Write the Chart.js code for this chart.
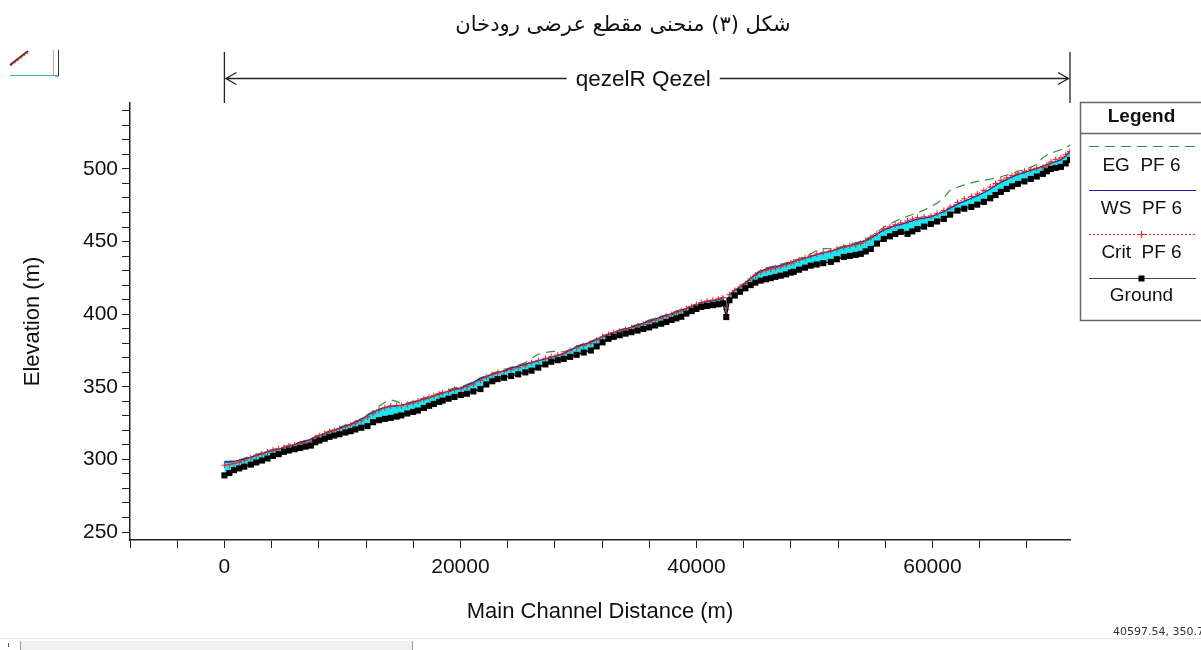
<!DOCTYPE html>
<html>
<head>
<meta charset="utf-8">
<script src="https://cdn.jsdelivr.net/npm/chart.js@4.4.1/dist/chart.umd.min.js"></script>
<style>
  html, body { margin: 0; padding: 0; background: #fff; overflow: hidden; }
  #wrap { position: relative; width: 1201px; height: 650px; }
  canvas { display: block; }
</style>
</head>
<body>
<div id="wrap"><canvas id="profile" width="1201" height="650"></canvas></div>
<script>
// River stations (m) along the main channel, upstream end last
const stations = [
  0, 420, 810, 1250, 1690, 2240, 2700, 3180, 3650, 4120,
  4600, 5050, 5460, 5950, 6420, 6880, 7320, 7700, 8050, 8500,
  8900, 9300, 9750, 10250, 10700, 11100, 11600, 12130, 12600, 13100,
  13600, 14100, 14600, 15000, 15500, 16000, 16400, 16900, 17350, 17750,
  18200, 18500, 19000, 19500, 20050, 20550, 21100, 21700, 22200, 22700,
  23150, 23700, 24300, 24900, 25500, 26030, 26600, 27200, 27700, 28250,
  28760, 29300, 29850, 30450, 31050, 31550, 32050, 32550, 33000, 33500,
  34000, 34500, 35010, 35500, 36000, 36500, 37020, 37450, 37900, 38300,
  38720, 39150, 39600, 40000, 40410, 40900, 41400, 41850, 42250, 42530,
  42800, 43250, 43700, 44150, 44600, 45000, 45450, 45900, 46300, 46700,
  47150, 47600, 48000, 48250, 48700, 49200, 49690, 50200, 50750, 51390,
  51900, 52490, 53000, 53500, 53930, 54350, 54780, 55300, 55880, 56400,
  56850, 57320, 57890, 58300, 58740, 59300, 59870, 60400, 60970, 61500,
  62130, 62700, 63300, 63800, 64360, 64900, 65350, 65800, 66300, 66750,
  67240, 67800, 68340, 68850, 69360, 69700, 70040, 70450, 70890, 71300,
  71660
];

// Channel invert (Ground), m
const ground = [
  289.0, 290.6, 292.6, 293.8, 295.0, 296.4, 297.9, 299.2, 300.6, 302.4,
  303.6, 305.2, 306.1, 307.0, 307.9, 308.8, 309.5, 311.8, 313.0, 314.2,
  315.5, 316.4, 317.3, 318.5, 319.4, 320.6, 321.8, 322.9, 325.6, 327.0,
  327.9, 328.6, 329.5, 330.3, 331.6, 332.7, 333.6, 335.4, 336.9, 338.2,
  339.6, 340.5, 341.8, 343.0, 344.3, 345.2, 346.8, 348.4, 351.6, 353.8,
  355.3, 356.2, 357.4, 358.6, 359.9, 361.1, 363.2, 365.4, 367.2, 368.3,
  369.2, 370.6, 372.0, 373.6, 375.0, 377.8, 380.6, 383.0, 384.4, 385.5,
  386.6, 387.6, 388.7, 389.8, 390.9, 392.2, 393.4, 394.6, 396.0, 397.1,
  398.2, 400.4, 402.1, 403.6, 405.0, 405.6, 406.2, 406.8, 407.4, 398.0,
  409.6, 412.8, 415.4, 417.8, 420.0, 421.7, 423.1, 424.0, 424.8, 425.7,
  426.5, 427.4, 428.6, 429.2, 430.6, 432.0, 433.4, 434.2, 435.1, 436.0,
  437.8, 439.4, 440.1, 440.8, 441.5, 443.2, 444.9, 448.6, 451.8, 453.6,
  455.2, 456.6, 455.3, 457.0, 458.6, 460.3, 462.1, 463.8, 465.6, 468.5,
  471.3, 472.6, 473.8, 475.4, 477.3, 479.8, 482.0, 484.2, 486.2, 488.0,
  489.7, 491.4, 493.1, 494.8, 496.6, 498.4, 500.0, 500.7, 501.4, 503.8,
  506.2
];

// Water surface, profile PF 6, m
const wsPF6 = [
  298.2, 298.3, 298.6, 299.3, 300.2, 301.6, 302.8, 304.0, 305.1, 306.2,
  307.0, 308.0, 309.0, 310.3, 311.5, 312.7, 313.8, 315.1, 316.4, 317.6,
  318.9, 320.1, 321.6, 323.0, 324.3, 325.6, 327.6, 330.4, 332.6, 334.4,
  335.8, 336.6, 336.9, 337.4, 338.2, 339.3, 340.4, 341.6, 342.6, 343.8,
  344.9, 345.8, 347.0, 348.4, 349.3, 351.0, 353.0, 355.6, 357.2, 358.6,
  359.8, 361.2, 362.8, 364.2, 365.6, 366.8, 368.0, 369.2, 370.4, 371.6,
  372.8, 375.4, 377.4, 379.2, 380.8, 382.6, 384.6, 385.9, 387.4, 388.6,
  389.8, 391.0, 392.4, 393.8, 395.2, 396.6, 397.9, 399.2, 400.4, 401.6,
  402.7, 404.0, 405.2, 406.4, 407.6, 408.4, 409.2, 410.0, 410.8, 404.6,
  413.0, 416.2, 418.8, 421.2, 424.6, 427.2, 429.6, 431.0, 431.9, 432.8,
  433.6, 434.6, 435.6, 436.3, 437.4, 438.6, 439.8, 441.0, 442.2, 443.4,
  444.8, 446.2, 447.4, 448.4, 449.4, 450.8, 452.4, 455.2, 458.0, 459.6,
  461.0, 461.8, 463.2, 464.4, 465.4, 466.2, 467.0, 468.8, 470.6, 473.2,
  475.8, 477.8, 479.8, 481.6, 483.8, 486.2, 488.6, 490.8, 492.8, 494.6,
  496.2, 497.6, 499.0, 500.4, 502.0, 503.0, 504.0, 505.0, 506.4, 509.0,
  512.6
];

// Critical depth elevation, profile PF 6, m
const critPF6 = [
  296.0, 296.4, 297.2, 298.1, 299.4, 301.0, 302.4, 303.8, 305.2, 306.4,
  307.3, 308.2, 309.3, 309.9, 310.8, 311.6, 312.7, 315.0, 316.3, 317.8,
  319.1, 319.9, 321.0, 322.4, 323.7, 325.1, 326.7, 329.2, 331.8, 333.9,
  335.6, 336.8, 337.2, 337.0, 337.9, 339.0, 340.2, 341.5, 342.7, 343.9,
  345.0, 345.9, 346.8, 348.0, 348.6, 350.0, 351.8, 354.4, 356.6, 358.4,
  359.6, 360.6, 361.9, 363.2, 364.8, 366.6, 368.2, 369.6, 370.8, 371.9,
  372.9, 375.0, 376.8, 378.4, 380.0, 382.2, 384.4, 386.0, 387.3, 388.2,
  389.4, 390.6, 391.8, 393.0, 394.4, 395.8, 397.2, 398.4, 399.8, 401.0,
  402.4, 403.8, 405.2, 406.6, 408.0, 408.9, 409.7, 410.4, 411.2, 403.2,
  413.4, 416.4, 418.8, 421.0, 424.4, 426.8, 429.0, 430.2, 431.0, 431.9,
  432.8, 434.0, 435.2, 436.0, 437.4, 438.8, 440.2, 441.4, 442.6, 443.6,
  444.8, 446.1, 447.0, 447.8, 448.8, 450.8, 452.8, 455.6, 458.6, 460.2,
  461.6, 462.8, 464.2, 465.4, 466.4, 467.0, 467.6, 469.4, 471.4, 473.8,
  477.0, 479.4, 481.0, 482.8, 485.2, 487.6, 490.0, 492.2, 493.8, 495.4,
  497.0, 498.4, 499.8, 500.6, 501.0, 502.6, 504.8, 506.6, 507.6, 509.8,
  512.0
];

// Energy grade line, profile PF 6, m
const egPF6 = [
  298.6, 298.8, 299.1, 299.8, 300.8, 302.2, 303.4, 304.7, 305.9, 307.0,
  307.8, 308.8, 309.8, 310.9, 312.0, 313.1, 314.2, 315.7, 317.0, 318.3,
  319.6, 320.7, 322.1, 323.5, 324.8, 326.1, 328.1, 330.9, 333.2, 336.6,
  339.4, 341.0, 340.0, 338.2, 338.8, 339.9, 341.0, 342.3, 343.4, 344.6,
  345.7, 346.6, 347.8, 349.2, 350.0, 351.6, 353.6, 356.2, 357.8, 359.3,
  360.5, 361.9, 363.4, 364.9, 366.6, 369.8, 372.4, 373.6, 374.2, 374.6,
  373.8, 376.0, 378.0, 379.8, 381.4, 383.2, 385.2, 386.5, 388.0, 389.2,
  390.4, 391.6, 393.0, 394.4, 395.9, 397.3, 398.6, 399.8, 401.0, 402.2,
  403.3, 404.6, 405.8, 407.0, 408.3, 409.2, 410.0, 410.8, 411.6, 405.0,
  413.8, 416.9, 419.5, 421.9, 425.3, 427.9, 430.3, 431.7, 432.6, 433.5,
  434.3, 435.3, 436.3, 437.0, 438.1, 439.8, 441.6, 443.8, 445.2, 445.0,
  445.6, 447.0, 448.2, 449.2, 450.2, 451.7, 453.4, 456.4, 459.8, 462.2,
  464.0, 465.6, 467.4, 468.6, 469.8, 471.6, 474.2, 476.4, 480.2, 485.4,
  487.4, 489.0, 490.4, 491.4, 492.2, 493.0, 493.8, 494.6, 495.8, 497.0,
  498.4, 499.6, 501.2, 503.2, 507.8, 509.6, 510.8, 512.0, 513.2, 514.6,
  516.4
];

// Axis ticks and labels
const xLabelledTicks = [0, 20000, 40000, 60000];
const yLabelledTicks = [250, 300, 350, 400, 450, 500];
const xMinorStep = 4000;
const yMinorStep = 10;

// Text
const figureTitle = 'شکل (۳) منحنی مقطع عرضی رودخان';
const reachName = 'qezelR Qezel';
const legendHeading = 'Legend';
const legendNames = ['EG  PF 6', 'WS  PF 6', 'Crit  PF 6', 'Ground'];
const cursorReadout = '40597.54, 350.7';

const SANS = '"Liberation Sans", Arial, Helvetica, sans-serif';
const COLORS = { eg: '#2f8f3a', ws: '#1c1ca6', crit: '#e3242b', ground: '#000000', fill: '#1ee4ee', axis: '#222222' };

const toPoints = vals => stations.map((s, i) => ({ x: s, y: vals[i] }));

// Title, reach arrow, legend box and window furniture drawn on top of the chart
const furniture = {
  id: 'furniture',
  afterDraw(chart) {
    const ctx = chart.ctx;
    const xs = chart.scales.x;
    ctx.save();

    // figure caption
    ctx.fillStyle = '#111';
    ctx.font = '21px "DejaVu Sans", sans-serif';
    ctx.textAlign = 'center';
    ctx.textBaseline = 'middle';
    ctx.direction = 'rtl';
    ctx.fillText(figureTitle, 623, 26);
    ctx.direction = 'ltr';

    // reach extent arrow
    const xa = xs.getPixelForValue(stations[0]);
    const xb = xs.getPixelForValue(stations[stations.length - 1]);
    const ya = 78.5;
    ctx.strokeStyle = '#222';
    ctx.lineWidth = 1.3;
    ctx.beginPath();
    ctx.moveTo(xa, 52); ctx.lineTo(xa, 103);
    ctx.moveTo(xb, 52); ctx.lineTo(xb, 103);
    ctx.stroke();
    ctx.font = '22.5px ' + SANS;
    const tw = ctx.measureText(reachName).width;
    const xm = (xa + xb) / 2 - 4;
    ctx.beginPath();
    ctx.moveTo(xa + 1, ya); ctx.lineTo(xm - tw / 2 - 9, ya);
    ctx.moveTo(xm + tw / 2 + 9, ya); ctx.lineTo(xb - 1, ya);
    ctx.moveTo(xa + 12, ya - 6); ctx.lineTo(xa + 1.5, ya); ctx.lineTo(xa + 12, ya + 6);
    ctx.moveTo(xb - 12, ya - 6); ctx.lineTo(xb - 1.5, ya); ctx.lineTo(xb - 12, ya + 6);
    ctx.stroke();
    ctx.fillStyle = '#111';
    ctx.textBaseline = 'middle';
    ctx.fillText(reachName, xm, ya + 1);

    // small clipped thumbnail at the top-left
    ctx.lineWidth = 1;
    ctx.strokeStyle = '#2bb3b3';
    ctx.beginPath(); ctx.moveTo(10, 75.5); ctx.lineTo(55, 75.5); ctx.stroke();
    ctx.strokeStyle = '#e79a9a';
    ctx.beginPath(); ctx.moveTo(53.5, 50); ctx.lineTo(53.5, 75); ctx.stroke();
    ctx.strokeStyle = '#333';
    ctx.beginPath(); ctx.moveTo(58.5, 50); ctx.lineTo(58.5, 76); ctx.lineTo(55, 76); ctx.stroke();
    ctx.lineWidth = 2;
    ctx.strokeStyle = '#6b2a1e';
    ctx.beginPath(); ctx.moveTo(10, 65); ctx.lineTo(28, 51); ctx.stroke();
    ctx.lineWidth = 1;
    ctx.strokeStyle = '#d9403a';
    ctx.setLineDash([2, 2]);
    ctx.beginPath(); ctx.moveTo(11, 66); ctx.lineTo(28, 53); ctx.stroke();
    ctx.setLineDash([]);

    // legend box
    const lx = 1080.5, lw = 140;
    ctx.strokeStyle = '#666';
    ctx.lineWidth = 1.5;
    ctx.strokeRect(lx, 102.5, lw, 218);
    ctx.beginPath(); ctx.moveTo(lx, 133.5); ctx.lineTo(lx + lw, 133.5); ctx.stroke();
    const cx = 1141.5;
    ctx.fillStyle = '#111';
    ctx.textAlign = 'center';
    ctx.font = 'bold 19px ' + SANS;
    ctx.fillText(legendHeading, cx, 117);
    const swY = [146.5, 190.5, 234.5, 278.5];
    const txY = [166, 209, 253, 296];
    const s0 = 1089, s1 = 1196;
    ctx.lineWidth = 1.2;
    // EG
    ctx.strokeStyle = COLORS.eg; ctx.setLineDash([10, 6]);
    ctx.beginPath(); ctx.moveTo(s0, swY[0]); ctx.lineTo(s1, swY[0]); ctx.stroke();
    // WS
    ctx.strokeStyle = COLORS.ws; ctx.setLineDash([]);
    ctx.beginPath(); ctx.moveTo(s0, swY[1]); ctx.lineTo(s1, swY[1]); ctx.stroke();
    // Crit
    ctx.strokeStyle = COLORS.crit; ctx.setLineDash([2, 2]);
    ctx.beginPath(); ctx.moveTo(s0, swY[2]); ctx.lineTo(s1, swY[2]); ctx.stroke();
    ctx.setLineDash([]);
    ctx.beginPath();
    ctx.moveTo(cx - 3.5, swY[2]); ctx.lineTo(cx + 3.5, swY[2]);
    ctx.moveTo(cx, swY[2] - 3.5); ctx.lineTo(cx, swY[2] + 3.5);
    ctx.stroke();
    // Ground
    ctx.strokeStyle = '#444';
    ctx.beginPath(); ctx.moveTo(s0, swY[3]); ctx.lineTo(s1, swY[3]); ctx.stroke();
    ctx.fillStyle = '#000';
    ctx.fillRect(cx - 3, swY[3] - 3, 6, 6);
    ctx.fillStyle = '#111';
    ctx.font = '19px ' + SANS;
    legendNames.forEach((t, i) => ctx.fillText(t, cx, txY[i]));

    // status strip along the bottom of the window
    ctx.fillStyle = '#e9e9e9';
    ctx.fillRect(0, 638, 1201, 1);
    ctx.fillStyle = '#f0f0f0';
    ctx.fillRect(21, 641, 391, 9);
    ctx.fillStyle = '#9a9a9a';
    ctx.fillRect(412, 641, 1, 9);
    ctx.fillRect(20, 641, 1, 9);
    ctx.fillStyle = '#555';
    ctx.fillRect(8, 643, 1, 4);
    ctx.fillStyle = '#333';
    ctx.font = '11px "DejaVu Sans", sans-serif';
    ctx.textAlign = 'left';
    ctx.fillText(cursorReadout, 1113, 632);

    ctx.restore();
  }
};

const tickFont = { family: SANS, size: 21 };
const titleFont = { family: SANS, size: 22 };

new Chart(document.getElementById('profile'), {
  type: 'line',
  data: {
    datasets: [
      {
        label: 'Ground', data: toPoints(ground),
        borderColor: COLORS.ground, borderWidth: 1.2,
        pointStyle: 'rect', pointRadius: 4.3, pointBorderWidth: 0,
        pointBackgroundColor: COLORS.ground, pointBorderColor: COLORS.ground,
        fill: false, tension: 0
      },
      {
        label: 'Crit PF 6', data: toPoints(critPF6),
        borderColor: COLORS.crit, borderWidth: 1, borderDash: [2, 2],
        pointStyle: 'cross', pointRadius: 3, pointBorderWidth: 1,
        pointBorderColor: COLORS.crit, fill: false, tension: 0
      },
      {
        label: 'WS PF 6', data: toPoints(wsPF6),
        borderColor: COLORS.ws, borderWidth: 1.3, pointRadius: 0,
        backgroundColor: COLORS.fill, fill: { target: 0 }, tension: 0
      },
      {
        label: 'EG PF 6', data: toPoints(egPF6),
        borderColor: COLORS.eg, borderWidth: 1.2, borderDash: [9, 6],
        pointRadius: 0, fill: false, tension: 0
      }
    ]
  },
  options: {
    responsive: false,
    animation: false,
    devicePixelRatio: 1,
    events: [],
    layout: { padding: { left: 0, top: 103, right: 131, bottom: 0 } },
    plugins: {
      legend: { display: false },
      tooltip: { enabled: false },
      filler: { drawTime: 'beforeDatasetsDraw' }
    },
    scales: {
      x: {
        type: 'linear', min: -8000, max: 71660,
        afterFit(s) { s.height = 110; },
        afterBuildTicks(s) {
          const t = [];
          for (let v = -8000; v <= s.max; v += xMinorStep) t.push({ value: v });
          s.ticks = t;
        },
        ticks: {
          autoSkip: false, maxRotation: 0, padding: 7, color: '#111', font: tickFont,
          callback: v => (xLabelledTicks.includes(v) ? String(v) : '')
        },
        grid: { drawOnChartArea: false, drawTicks: true, tickLength: 8, color: COLORS.axis, tickWidth: 1 },
        border: { color: COLORS.axis, width: 1.5 },
        title: { display: true, text: 'Main Channel Distance (m)', color: '#111', font: titleFont, padding: { top: 0, bottom: 25 } }
      },
      y: {
        type: 'linear', min: 244.5, max: 545.4,
        afterFit(s) { s.width = 130; },
        afterBuildTicks(s) {
          const t = [];
          for (let v = 250; v <= s.max; v += yMinorStep) t.push({ value: v });
          s.ticks = t;
        },
        ticks: {
          autoSkip: false, padding: 4, color: '#111', font: tickFont,
          callback: v => (yLabelledTicks.includes(v) ? String(v) : '')
        },
        grid: { drawOnChartArea: false, drawTicks: true, tickLength: 8, color: COLORS.axis, tickWidth: 1 },
        border: { color: COLORS.axis, width: 1.5 },
        title: { display: true, text: 'Elevation (m)', color: '#111', font: titleFont, padding: { top: 20, bottom: 0 } }
      }
    }
  },
  plugins: [furniture]
});
</script>
</body>
</html>
